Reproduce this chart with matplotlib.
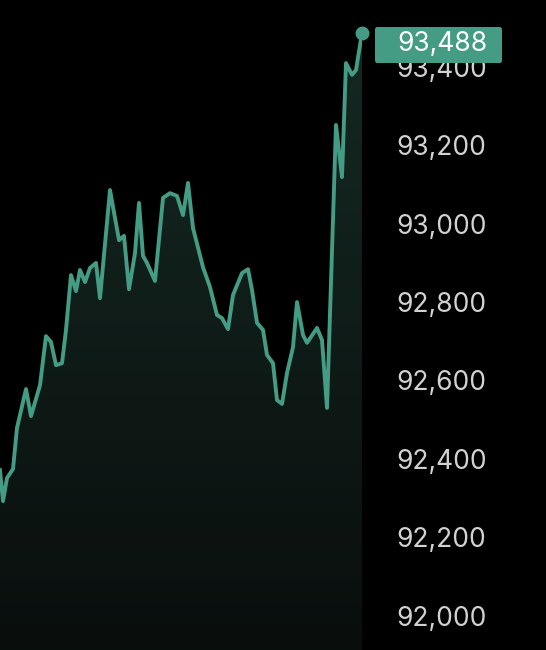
import numpy as np
import matplotlib
matplotlib.use('Agg')
import matplotlib.pyplot as plt
from matplotlib.patches import Polygon, FancyBboxPatch

plt.rcParams['font.family'] = ['Inter', 'DejaVu Sans']

# price series (time in minutes from the left edge)
minutes = [0, 3, 7, 13, 17, 26, 31, 40, 46, 51, 56, 62, 66, 71, 76, 80, 85, 90, 96, 100,
           110, 119, 124, 129, 135, 139, 143, 147, 155, 163, 170, 177, 183, 188, 193,
           203, 210, 217, 222, 228, 233, 242, 248, 252, 257, 263, 267, 273, 277, 282,
           287, 293, 297, 303, 307, 317, 322, 327, 336, 342, 346, 352, 356, 362]
prices = [92371, 92292, 92351, 92374, 92479, 92578, 92509, 92588, 92713, 92698,
          92639, 92644, 92729, 92869, 92828, 92882, 92851, 92887, 92900, 92810,
          93086, 92958, 92969, 92833, 92925, 93053, 92918, 92900, 92854, 93066,
          93078, 93071, 93022, 93104, 92989, 92889, 92838, 92767, 92759, 92731,
          92818, 92874, 92884, 92831, 92747, 92729, 92665, 92644, 92550, 92540,
          92619, 92685, 92800, 92716, 92696, 92734, 92703, 92530, 93252, 93119,
          93410, 93380, 93392, 93488]
yticks = [92000, 92200, 92400, 92600, 92800, 93000, 93200, 93400]

green = '#459c84'
ymin, ymax = 91912, 93571

fig = plt.figure(figsize=(5.46, 6.5), dpi=100, facecolor='black')
ax = fig.add_axes([0, 0, 362 / 546, 1])
ax.set_facecolor('black')
ax.set_xlim(minutes[0], minutes[-1])
ax.set_ylim(ymin, ymax)

# gradient fill under the line
top = np.array([0.085, 0.165, 0.140])
bot = np.array([0.035, 0.055, 0.050])
k = np.linspace(0, 1, 256)[:, None]
rgb = top * (1 - k) + bot * k
grad = np.dstack([rgb[:, None, 0], rgb[:, None, 1], rgb[:, None, 2]])
im = ax.imshow(grad, extent=[minutes[0], minutes[-1], ymin, ymax],
               aspect='auto', origin='upper', zorder=1)
verts = [(minutes[0], ymin)] + list(zip(minutes, prices)) + [(minutes[-1], ymin)]
poly = Polygon(verts, closed=True, facecolor='none', edgecolor='none')
ax.add_patch(poly)
im.set_clip_path(poly)

ax.plot(minutes, prices, color=green, lw=2.8, solid_joinstyle='round', zorder=3)
ax.plot(minutes[-1], prices[-1], 'o', color=green, ms=9, clip_on=False, zorder=4)

ax.yaxis.tick_right()
ax.set_yticks(yticks)
ax.set_yticklabels([f"{v:,}" for v in yticks])
ax.tick_params(axis='y', length=0, pad=25, labelsize=19, labelcolor='#d2d2d2')
ax.set_xticks([])
for s in ax.spines.values():
    s.set_visible(False)

# last price badge
box = FancyBboxPatch((375 / 546, 1 - 63 / 650), 127 / 546, 36 / 650,
                     boxstyle='round,pad=0,rounding_size=0.004',
                     transform=fig.transFigure, facecolor=green, edgecolor='none')
fig.patches.append(box)
fig.text(397 / 546, 1 - 44 / 650, f"{prices[-1]:,}", color='white',
         fontsize=19, ha='left', va='center', zorder=5)

fig.savefig('out.png', dpi=100, facecolor='black')
